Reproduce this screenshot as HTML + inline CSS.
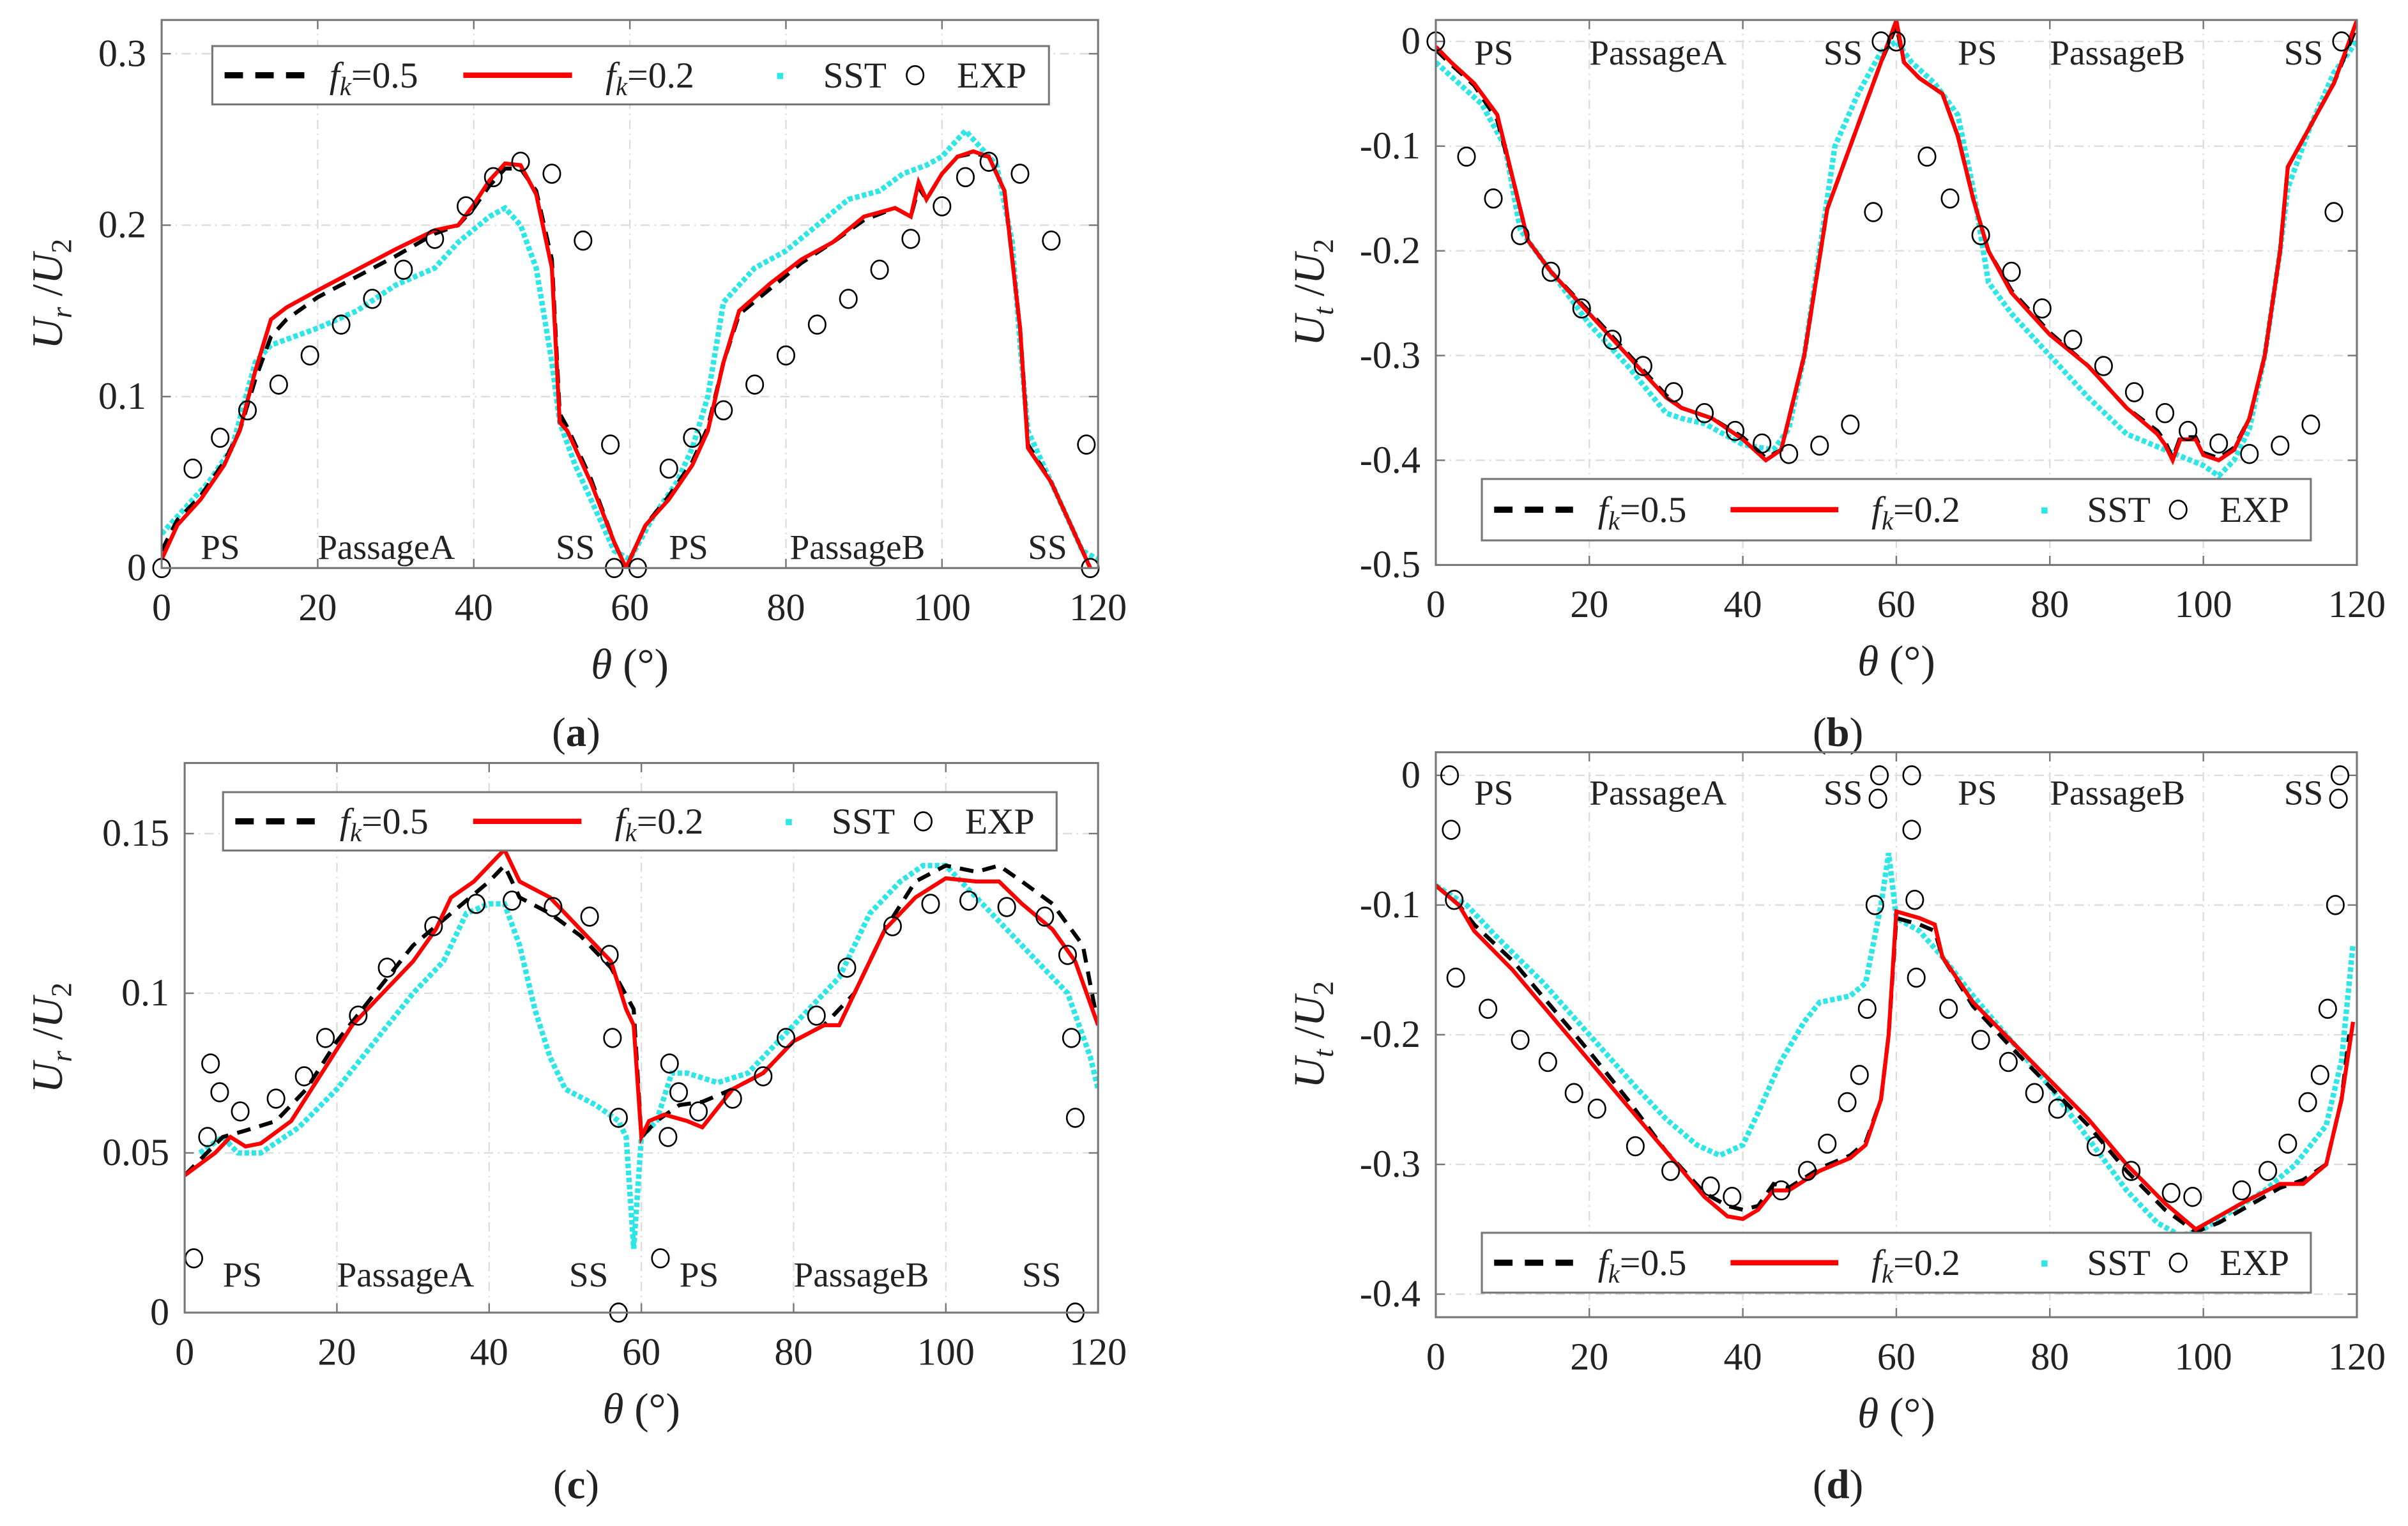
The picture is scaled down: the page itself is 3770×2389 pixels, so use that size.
<!DOCTYPE html>
<html><head><meta charset="utf-8"><style>
html,body{margin:0;padding:0;background:#fff}
svg{display:block}
svg text{font-family:"Liberation Serif","Times New Roman","DejaVu Serif",serif;fill:#222}
</style></head><body>
<svg id="fig" width="3770" height="2389" viewBox="0 0 1568 994" xmlns="http://www.w3.org/2000/svg" font-family="Liberation Serif, serif">
</svg>
<script>
// ---------- DATA ----------
const xTicks = [0,20,40,60,80,100,120];
const aYTicks = [0,0.1,0.2,0.3];
const aYLabels = ["0","0.1","0.2","0.3"];
const aFk05 = [[0,0.01],[2,0.028],[5,0.042],[8,0.062],[10,0.08],[12,0.11],[14,0.135],[16,0.145],[20,0.158],[25,0.17],[30,0.182],[35,0.195],[38,0.2],[40,0.21],[42,0.223],[44,0.233],[46,0.233],[48,0.22],[50,0.18],[51,0.09],[52,0.082],[55,0.052],[58,0.015],[59.5,0.0]];
const aFk05b = [[60,0.005],[62,0.025],[65,0.042],[68,0.062],[70,0.082],[72,0.12],[74,0.148],[78,0.163],[82,0.178],[86,0.19],[90,0.203],[94,0.21],[96,0.205],[97,0.222],[98,0.215],[100,0.23],[102,0.24],[104,0.242],[106,0.24],[108,0.22],[110,0.14],[111,0.072],[114,0.05],[117,0.02],[119,0.0]];
const aFk02 = [[0,0.005],[2,0.025],[5,0.04],[8,0.06],[10,0.08],[12,0.115],[14,0.145],[16,0.152],[20,0.162],[25,0.174],[30,0.186],[35,0.197],[38,0.2],[40,0.212],[42,0.226],[44,0.236],[46,0.235],[48,0.218],[50,0.175],[51,0.085],[52,0.08],[55,0.05],[58,0.015],[59.5,0.0],[60,0.005],[62,0.025],[65,0.04],[68,0.06],[70,0.08],[72,0.12],[74,0.15],[78,0.166],[82,0.18],[86,0.19],[90,0.205],[94,0.21],[96,0.205],[97,0.225],[98,0.215],[100,0.23],[102,0.24],[104,0.243],[106,0.24],[108,0.22],[110,0.14],[111,0.07],[114,0.05],[117,0.02],[119,0.0]];
const aSST = [[0,0.02],[3,0.035],[6,0.05],[9,0.07],[12,0.12],[14,0.13],[20,0.14],[25,0.15],[30,0.165],[35,0.175],[38,0.19],[42,0.205],[44,0.21],[46,0.2],[48,0.175],[50,0.12],[51,0.085],[53,0.06],[55,0.04],[58,0.01],[60,0.005],[63,0.03],[66,0.05],[68,0.07],[70,0.1],[72,0.155],[76,0.175],[80,0.185],[84,0.2],[88,0.215],[92,0.22],[95,0.23],[98,0.235],[100,0.24],[103,0.255],[105,0.245],[107,0.235],[109,0.19],[110,0.13],[111,0.08],[114,0.05],[118,0.01],[120,0.005]];
const aEXP = [[0,0],[4,0.058],[7.5,0.076],[11,0.092],[15,0.107],[19,0.124],[23,0.142],[27,0.157],[31,0.174],[35,0.192],[39,0.211],[42.5,0.228],[46,0.237],[50,0.23],[54,0.191],[57.5,0.072],[58,0],[61,0],[65,0.058],[68,0.076],[72,0.092],[76,0.107],[80,0.124],[84,0.142],[88,0.157],[92,0.174],[96,0.192],[100,0.211],[103,0.228],[106,0.237],[110,0.23],[114,0.191],[118.5,0.072],[119,0]];

const bYTicks = [-0.5,-0.4,-0.3,-0.2,-0.1,0];
const bYLabels = ["-0.5","-0.4","-0.3","-0.2","-0.1","0"];
const bFk05 = [[0,-0.008],[2,-0.022],[5,-0.042],[8,-0.075],[10,-0.13],[12,-0.19],[15,-0.22],[20,-0.258],[25,-0.298],[30,-0.338],[32,-0.35],[34,-0.355],[36,-0.36],[40,-0.378],[43,-0.398],[45,-0.39],[48,-0.3],[51,-0.16],[52,-0.14],[55,-0.08],[58,-0.02],[60,0.015],[61,-0.02],[63,-0.035],[66,-0.05],[68,-0.09],[70,-0.15],[72,-0.2],[75,-0.238],[80,-0.278],[85,-0.31],[90,-0.35],[94,-0.372],[95,-0.382],[96,-0.398],[97,-0.378],[99,-0.378],[100,-0.393],[102,-0.398],[104,-0.388],[106,-0.36],[108,-0.3],[110,-0.2],[111,-0.12],[114,-0.08],[117,-0.04],[120,0.015]];
const bFk02 = [[0,-0.005],[2,-0.02],[5,-0.04],[8,-0.07],[10,-0.13],[12,-0.19],[15,-0.22],[20,-0.26],[25,-0.3],[30,-0.34],[32,-0.35],[34,-0.355],[36,-0.36],[40,-0.38],[43,-0.4],[45,-0.39],[48,-0.3],[51,-0.16],[52,-0.14],[55,-0.08],[58,-0.02],[60,0.02],[61,-0.02],[63,-0.035],[66,-0.05],[68,-0.09],[70,-0.15],[72,-0.2],[75,-0.24],[80,-0.28],[85,-0.31],[90,-0.35],[94,-0.375],[95,-0.385],[96,-0.4],[97,-0.38],[99,-0.38],[100,-0.395],[102,-0.4],[104,-0.39],[106,-0.36],[108,-0.3],[110,-0.2],[111,-0.12],[114,-0.08],[117,-0.04],[120,0.02]];
const bSST = [[0,-0.02],[3,-0.04],[6,-0.06],[9,-0.1],[11,-0.18],[15,-0.22],[20,-0.27],[25,-0.31],[30,-0.355],[32,-0.36],[35,-0.365],[40,-0.385],[44,-0.39],[46,-0.37],[48,-0.3],[50,-0.2],[52,-0.1],[55,-0.05],[58,-0.01],[60,0.0],[62,-0.02],[65,-0.04],[68,-0.07],[70,-0.14],[72,-0.23],[75,-0.26],[80,-0.3],[85,-0.34],[90,-0.375],[95,-0.39],[100,-0.405],[102,-0.415],[104,-0.4],[106,-0.37],[108,-0.3],[110,-0.2],[111,-0.14],[114,-0.08],[117,-0.03],[120,0.0]];
const bEXP = [[0,0],[4,-0.11],[7.5,-0.15],[11,-0.185],[15,-0.22],[19,-0.255],[23,-0.285],[27,-0.31],[31,-0.335],[35,-0.355],[39,-0.372],[42.5,-0.384],[46,-0.394],[50,-0.386],[54,-0.366],[57,-0.163],[58,0],[60,0],[64,-0.11],[67,-0.15],[71,-0.185],[75,-0.22],[79,-0.255],[83,-0.285],[87,-0.31],[91,-0.335],[95,-0.355],[98,-0.372],[102,-0.384],[106,-0.394],[110,-0.386],[114,-0.366],[117,-0.163],[118,0]];

const cYTicks = [0,0.05,0.1,0.15];
const cYLabels = ["0","0.05","0.1","0.15"];
const cFk05 = [[0,0.043],[5,0.055],[8,0.057],[12,0.06],[16,0.07],[20,0.085],[25,0.1],[30,0.115],[35,0.125],[40,0.135],[42,0.14],[44,0.13],[48,0.125],[52,0.118],[56,0.108],[59,0.095],[60,0.055],[62,0.06],[65,0.065],[68,0.066],[72,0.07],[76,0.075],[80,0.085],[84,0.09],[88,0.1],[92,0.12],[96,0.135],[100,0.14],[104,0.138],[107,0.14],[110,0.135],[114,0.128],[118,0.115],[120,0.09]];
const cFk02 = [[0,0.043],[4,0.05],[6,0.055],[8,0.052],[10,0.053],[14,0.06],[18,0.075],[22,0.09],[26,0.1],[30,0.11],[33,0.12],[35,0.13],[38,0.135],[40,0.14],[42,0.145],[44,0.135],[48,0.13],[52,0.12],[56,0.11],[58,0.095],[59,0.09],[60,0.055],[61,0.06],[63,0.062],[66,0.06],[68,0.058],[72,0.07],[76,0.075],[80,0.085],[84,0.09],[86,0.09],[88,0.1],[92,0.12],[96,0.13],[100,0.136],[104,0.135],[107,0.135],[110,0.128],[114,0.12],[117,0.11],[120,0.09]];
const cSST = [[2,0.05],[5,0.055],[7,0.05],[10,0.05],[15,0.058],[20,0.07],[25,0.085],[30,0.1],[34,0.11],[37,0.125],[40,0.128],[42,0.128],[44,0.115],[46,0.095],[48,0.08],[50,0.07],[54,0.065],[57,0.06],[58,0.055],[59,0.02],[60,0.055],[62,0.06],[64,0.075],[66,0.075],[70,0.072],[74,0.075],[78,0.085],[82,0.095],[86,0.105],[90,0.125],[94,0.135],[97,0.14],[100,0.14],[104,0.13],[108,0.12],[112,0.11],[116,0.1],[119,0.08],[120,0.07]];
const cEXP = [[1.2,0.017],[3,0.055],[3.4,0.078],[4.6,0.069],[7.3,0.063],[12,0.067],[15.7,0.074],[18.5,0.086],[22.8,0.093],[26.6,0.108],[32.7,0.121],[38.3,0.128],[43,0.129],[48.4,0.127],[53.2,0.124],[55.8,0.112],[56.2,0.086],[57,0.061],[57,0],[62.5,0.017],[63.5,0.055],[63.7,0.078],[64.9,0.069],[67.5,0.063],[72,0.067],[76,0.074],[79,0.086],[83,0.093],[87,0.108],[93,0.121],[98,0.128],[103,0.129],[108,0.127],[113,0.124],[116,0.112],[116.5,0.086],[117,0.061],[117,0]];

const dYTicks = [-0.4,-0.3,-0.2,-0.1,0];
const dYLabels = ["-0.4","-0.3","-0.2","-0.1","0"];
const dFk05 = [[0,-0.085],[3,-0.1],[5,-0.115],[10,-0.143],[15,-0.178],[20,-0.213],[25,-0.25],[30,-0.29],[35,-0.322],[38,-0.332],[40,-0.335],[42,-0.332],[44,-0.315],[46,-0.318],[50,-0.303],[54,-0.293],[56,-0.283],[58,-0.25],[59,-0.2],[60,-0.11],[63,-0.115],[65,-0.12],[66,-0.14],[70,-0.178],[75,-0.21],[80,-0.24],[85,-0.27],[90,-0.305],[95,-0.335],[99,-0.352],[102,-0.345],[105,-0.335],[110,-0.318],[113,-0.312],[116,-0.3],[118,-0.25],[119,-0.2]];
const dFk02 = [[0,-0.085],[3,-0.1],[5,-0.12],[10,-0.15],[15,-0.185],[20,-0.22],[25,-0.255],[30,-0.29],[35,-0.325],[38,-0.34],[40,-0.342],[42,-0.335],[44,-0.32],[46,-0.32],[50,-0.305],[54,-0.295],[56,-0.285],[58,-0.25],[59,-0.2],[60,-0.105],[63,-0.11],[65,-0.115],[66,-0.14],[70,-0.175],[75,-0.205],[80,-0.235],[85,-0.265],[90,-0.3],[95,-0.33],[99,-0.35],[102,-0.34],[105,-0.33],[110,-0.315],[113,-0.315],[116,-0.3],[118,-0.25],[119.5,-0.19]];
const dSST = [[0,-0.085],[4,-0.1],[8,-0.125],[14,-0.16],[20,-0.2],[26,-0.24],[30,-0.265],[34,-0.285],[37,-0.293],[40,-0.285],[42,-0.26],[45,-0.22],[48,-0.19],[50,-0.175],[54,-0.17],[56,-0.16],[58,-0.1],[59,-0.06],[60,-0.11],[63,-0.12],[66,-0.14],[70,-0.17],[75,-0.205],[80,-0.24],[85,-0.28],[90,-0.32],[94,-0.345],[97,-0.355],[100,-0.35],[104,-0.335],[108,-0.32],[112,-0.3],[116,-0.27],[118,-0.22],[119.5,-0.13]];
const dEXP = [[1.8,0],[2,-0.042],[2.4,-0.096],[2.6,-0.156],[6.8,-0.18],[11,-0.204],[14.6,-0.221],[18,-0.245],[21,-0.257],[26,-0.286],[30.6,-0.305],[35.8,-0.317],[38.6,-0.325],[45,-0.32],[48.4,-0.305],[51,-0.284],[53.6,-0.252],[55.2,-0.231],[56.2,-0.18],[57.2,-0.1],[57.6,-0.018],[57.8,0],[62,0],[62,-0.042],[62.4,-0.096],[62.6,-0.156],[66.8,-0.18],[71,-0.204],[74.6,-0.221],[78,-0.245],[81,-0.257],[86,-0.286],[90.6,-0.305],[95.8,-0.322],[98.6,-0.325],[105,-0.32],[108.4,-0.305],[111,-0.284],[113.6,-0.252],[115.2,-0.231],[116.2,-0.18],[117.2,-0.1],[117.6,-0.018],[117.8,0]];

// ---------- DRAWING ----------
const NS = "http://www.w3.org/2000/svg";
const svg = document.getElementById('fig');
const FONT = '"Liberation Serif", "Times New Roman", serif';
function mk(tag, attrs, parent, txt){
  const e = document.createElementNS(NS, tag);
  for (const k in attrs) e.setAttribute(k, attrs[k]);
  if (tag === 'text') e.style.fontFamily = FONT;
  if (txt !== undefined) e.textContent = txt;
  (parent||svg).appendChild(e);
  return e;
}
function panel(cfg){
  const g = mk('g', {});
  
  
  const sx = v => cfg.x0 + (v - 0) / 120 * (cfg.x1 - cfg.x0);
  const sy = v => cfg.yb + (v - cfg.ymin) / (cfg.ymax - cfg.ymin) * (cfg.yt - cfg.yb);
  cfg.xTicks.forEach(t => {
    if (t > 0 && t < 120) { const l = mk('line', {x1:sx(t),x2:sx(t),y1:cfg.yt,y2:cfg.yb,stroke:'#ddd','stroke-width':1,'stroke-dasharray':'6 3 1 3'}, g);
        }
    const tk = mk('text', {x:sx(t), y:cfg.yb+34, 'font-size':25, 'text-anchor':'middle'}, g, String(t));
     
    mk('line',{x1:sx(t),x2:sx(t),y1:cfg.yb,y2:cfg.yb-6,stroke:'#777','stroke-width':1},g);
    mk('line',{x1:sx(t),x2:sx(t),y1:cfg.yt,y2:cfg.yt+6,stroke:'#777','stroke-width':1},g);
  });
  cfg.yTicks.forEach((t,i) => {
    const y = sy(t);
    const l = mk('line', {x1:cfg.x0,x2:cfg.x1,y1:y,y2:y,stroke:'#ddd','stroke-width':1,'stroke-dasharray':'6 3 1 3'}, g);
     
    mk('line',{x1:cfg.x0,x2:cfg.x0+6,y1:y,y2:y,stroke:'#777'},g);
    mk('line',{x1:cfg.x1,x2:cfg.x1-6,y1:y,y2:y,stroke:'#777'},g);
    const tk = mk('text', {x:cfg.x0-10, y:y+8, 'font-size':25, 'text-anchor':'end'}, g, cfg.yLabels[i]);
     
  });
  cfg.regions.forEach(r => {
    const t = mk('text', {x:sx(r[1]), y:cfg.regY, 'font-size':23}, g, r[0]);
     
  });
  const path = arr => arr.map((p,i)=>(i?'L':'M')+sx(p[0]).toFixed(1)+' '+sy(p[1]).toFixed(1)).join(' ');
  const cl = mk('clipPath',{id:'clip'+cfg.id},g);
  mk('rect',{x:cfg.x0,y:cfg.yt,width:cfg.x1-cfg.x0,height:cfg.yb-cfg.yt},cl);
  const pg = mk('g',{'clip-path':'url(#clip'+cfg.id+')'},g);
  const sst = mk('path', {d:path(cfg.sst), fill:'none', stroke:'#2ee6e6','stroke-width':3.5,'stroke-dasharray':'3 1.6','stroke-linecap':'butt'}, pg);
   
  cfg.fk05.forEach(s => {
    const p = mk('path', {d:path(s), fill:'none', stroke:'#000','stroke-width':2.6,'stroke-dasharray':'9 6'}, pg);
     
  });
  const r = mk('path', {d:path(cfg.fk02), fill:'none', stroke:'#f00','stroke-width':2.6}, pg);
   
  cfg.exp.forEach(p => {
    const c = mk('ellipse', {cx:sx(p[0]), cy:sy(p[1]), rx:5.5, ry:6, fill:'none', stroke:'#000','stroke-width':1.1}, g);
     
  });
  const fr = mk('rect', {x:cfg.x0,y:cfg.yt,width:cfg.x1-cfg.x0,height:cfg.yb-cfg.yt,fill:'none',stroke:'#777','stroke-width':1.3}, g);
   
  const L = cfg.leg;
  const lg = mk('g',{},g);
   
  mk('rect',{x:L[0],y:L[1],width:L[2]-L[0],height:L[3]-L[1],fill:'#fff',stroke:'#777','stroke-width':1.3},lg);
  const cy = (L[1]+L[3])/2, w = L[2]-L[0];
  mk('line',{x1:L[0]+8,x2:L[0]+0.11*w,y1:cy,y2:cy,stroke:'#000','stroke-width':4,'stroke-dasharray':'12 8'},lg);
  let t1 = mk('text',{x:L[0]+0.14*w,y:cy+8,'font-size':24},lg);
  mk('tspan',{'font-style':'italic'},t1,'f'); mk('tspan',{'font-style':'italic','font-size':17,dy:5},t1,'k'); mk('tspan',{dy:-5},t1,'=0.5');
  mk('line',{x1:L[0]+0.3*w,x2:L[0]+0.43*w,y1:cy,y2:cy,stroke:'#f00','stroke-width':3.5},lg);
  let t2 = mk('text',{x:L[0]+0.47*w,y:cy+8,'font-size':24},lg);
  mk('tspan',{'font-style':'italic'},t2,'f'); mk('tspan',{'font-style':'italic','font-size':17,dy:5},t2,'k'); mk('tspan',{dy:-5},t2,'=0.2');
  mk('rect',{x:L[0]+0.675*w,y:cy-1.5,width:4,height:4,fill:'#2ee6e6'},lg);
  mk('text',{x:L[0]+0.73*w,y:cy+8,'font-size':24},lg,'SST');
  mk('ellipse',{cx:L[0]+0.84*w,cy:cy,rx:5.5,ry:6,fill:'none',stroke:'#000','stroke-width':1.1},lg);
  mk('text',{x:L[0]+0.89*w,y:cy+8,'font-size':24},lg,'EXP');
  const xt = mk('text',{x:(cfg.x0+cfg.x1)/2,y:cfg.yb+72,'font-size':28,'text-anchor':'middle'},g);
   
  mk('tspan',{'font-style':'italic'},xt,'θ'); mk('tspan',{},xt,'  (°)');
  const ycx = cfg.ytx, ycy = (cfg.yt+cfg.yb)/2;
  const yt = mk('text',{x:ycx,y:ycy,'font-size':28,'text-anchor':'middle',transform:`rotate(-90 ${ycx} ${ycy})`},g);
   
  mk('tspan',{'font-style':'italic'},yt,'U'); mk('tspan',{'font-style':'italic','font-size':19,dy:6},yt,cfg.sub);
  mk('tspan',{dy:-6},yt,' /'); mk('tspan',{'font-style':'italic'},yt,'U'); mk('tspan',{'font-size':19,dy:6},yt,'2');
  const pl = mk('text',{x:cfg.lab[0],y:cfg.lab[1],'font-size':27,'text-anchor':'middle'},g);
   
  mk('tspan',{},pl,'('); mk('tspan',{'font-weight':'bold'},pl,cfg.id); mk('tspan',{},pl,')');
}
panel({id:'a',x0:105,x1:715,yt:13,yb:370,ymin:0,ymax:0.3197,xTicks,yTicks:aYTicks,yLabels:aYLabels,
  fk05:[aFk05,aFk05b],fk02:aFk02,sst:aSST,exp:aEXP,leg:[138,30,683,68],ytx:40,sub:'r',lab:[375,486],
  regY:364,regions:[['PS',5],['PassageA',20],['SS',50.5],['PS',65],['PassageB',80.5],['SS',111]]});
panel({id:'b',x0:935,x1:1535,yt:13,yb:368,ymin:-0.5,ymax:0.0205,xTicks,yTicks:bYTicks,yLabels:bYLabels,
  fk05:[bFk05],fk02:bFk02,sst:bSST,exp:bEXP,leg:[965,312,1505,352],ytx:862,sub:'t',lab:[1197,486],
  regY:42,regions:[['PS',5],['PassageA',20],['SS',50.5],['PS',68],['PassageB',80],['SS',110.5]]});
panel({id:'c',x0:120,x1:715,yt:497,yb:855,ymin:0,ymax:0.1721,xTicks,yTicks:cYTicks,yLabels:cYLabels,
  fk05:[cFk05],fk02:cFk02,sst:cSST,exp:cEXP,leg:[145,516,688,554],ytx:40,sub:'r',lab:[375,976],
  regY:838,regions:[['PS',5],['PassageA',20],['SS',50.5],['PS',65],['PassageB',80],['SS',110]]});
panel({id:'d',x0:935,x1:1535,yt:490,yb:858,ymin:-0.4178,ymax:0.0178,xTicks,yTicks:dYTicks,yLabels:dYLabels,
  fk05:[dFk05],fk02:dFk02,sst:dSST,exp:dEXP,leg:[965,803,1505,842],ytx:862,sub:'t',lab:[1197,976],
  regY:524,regions:[['PS',5],['PassageA',20],['SS',50.5],['PS',68],['PassageB',80],['SS',110.5]]});
</script>
</body></html>
